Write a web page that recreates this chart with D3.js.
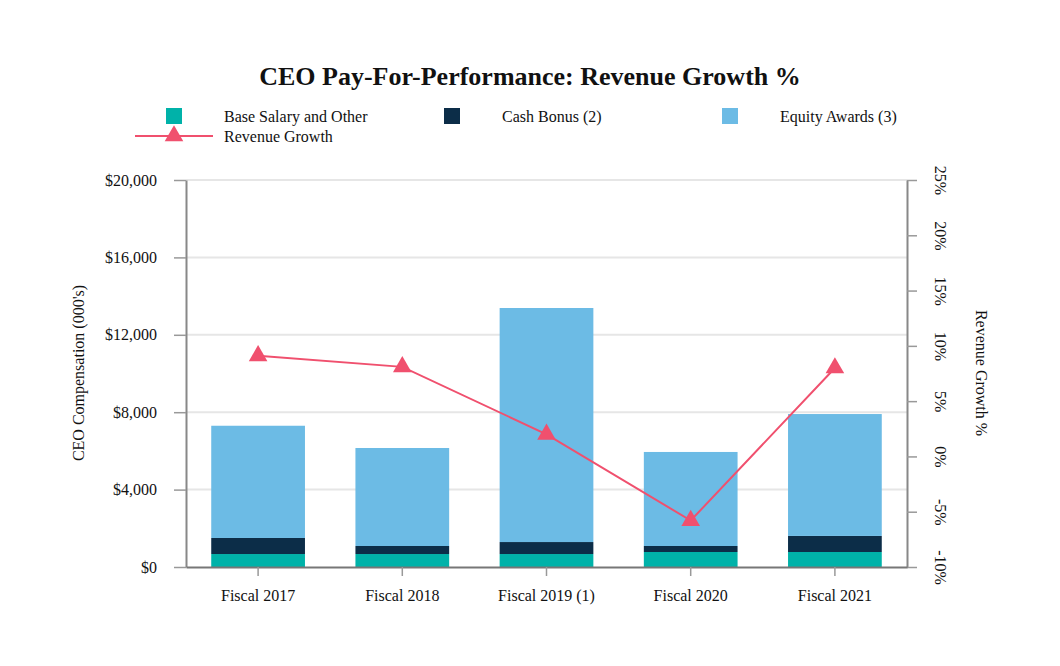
<!DOCTYPE html>
<html><head><meta charset="utf-8">
<script src="https://cdn.jsdelivr.net/npm/d3@7"></script>
<style>body{margin:0;background:#fff}svg{display:block}text{font-family:"Liberation Serif","Times New Roman",serif;fill:#111}</style>
</head><body><svg id="c" width="1060" height="666"></svg>
<script>
const categories = ["Fiscal 2017","Fiscal 2018","Fiscal 2019 (1)","Fiscal 2020","Fiscal 2021"];
const baseSalary = [670, 670, 670, 775, 775];
const cashBonus = [830, 415, 620, 310, 830];
const equityAwards = [5800, 5065, 12095, 4860, 6300];
const revenueGrowth = [9.1, 8.1, 2.0, -5.8, 8.0];
const leftTicks = [0, 4000, 8000, 12000, 16000, 20000];
const rightTicks = [-10, -5, 0, 5, 10, 15, 20, 25];
const seriesNames = ["Base Salary and Other","Cash Bonus (2)","Equity Awards (3)"];
const colors = ["#00b2a9","#0c2d48","#6cbbe5"];
const lineColor = "#f0506e";

const svg = d3.select("#c");
const L=186,R=907,T=180,B=567;
const FS="16px";
const x = d3.scaleBand().domain(categories).range([L,R]).paddingInner(0.35).paddingOuter(0.175);
const y = d3.scaleLinear().domain([0,20000]).range([B,T]);
const y2 = d3.scaleLinear().domain([-10,25]).range([B,T]);

svg.append("text").attr("x",530).attr("y",85).attr("text-anchor","middle")
  .style("font-size","26px").style("font-weight","bold").text("CEO Pay-For-Performance: Revenue Growth %");

// gridlines
svg.append("g").selectAll("line").data(leftTicks.slice(1)).join("line")
  .attr("x1",L).attr("x2",R).attr("y1",d=>y(d)).attr("y2",d=>y(d))
  .attr("stroke","#e6e6e6").attr("stroke-width",2);

// bars
const rows = categories.map((c,i)=>({cat:c,b:baseSalary[i],c:cashBonus[i],e:equityAwards[i]}));
const stack = d3.stack().keys(["b","c","e"])(rows);
svg.append("g").selectAll("g").data(stack).join("g").attr("fill",(d,i)=>colors[i])
  .selectAll("rect").data(d=>d).join("rect")
  .attr("x",d=>x(d.data.cat)).attr("width",x.bandwidth())
  .attr("y",d=>y(d[1])).attr("height",d=>y(d[0])-y(d[1]));

// axes
const gl = svg.append("g").attr("transform",`translate(${L},0)`)
  .call(d3.axisLeft(y).tickValues(leftTicks).tickFormat(d=>"$"+d3.format(",")(d)).tickSize(12).tickSizeOuter(0).tickPadding(17));
const gr = svg.append("g").attr("transform",`translate(${R},0)`)
  .call(d3.axisRight(y2).tickValues(rightTicks).tickFormat(d=>d+"%").tickSize(10).tickSizeOuter(0).tickPadding(0));
const gb = svg.append("g").attr("transform",`translate(0,${B})`)
  .call(d3.axisBottom(x).tickSize(9).tickSizeOuter(0).tickPadding(14));
[gl,gr,gb].forEach(g=>{
  g.selectAll(".domain").attr("stroke","#888").attr("stroke-width",2);
  g.selectAll(".tick line").attr("stroke","#999").attr("stroke-width",1.5);
  g.selectAll("text").style("font-size",FS).style("font-family",'"Liberation Serif",serif').attr("fill","#111");
});
gb.select(".domain").attr("stroke","#777");
gr.selectAll(".tick text").attr("x",null).attr("dy",null).attr("text-anchor","middle")
  .attr("transform","translate(34,0) rotate(90)").attr("dy","0.35em");

// axis titles
svg.append("text").attr("transform","translate(84,373) rotate(-90)").attr("text-anchor","middle")
  .style("font-size",FS).text("CEO Compensation (000's)");
svg.append("text").attr("transform","translate(976,373) rotate(90)").attr("text-anchor","middle")
  .style("font-size",FS).text("Revenue Growth %");

// line
const cx = d=>x(d)+x.bandwidth()/2;
svg.append("path").datum(revenueGrowth).attr("fill","none").attr("stroke",lineColor).attr("stroke-width",2)
  .attr("d",d3.line().x((d,i)=>cx(categories[i])).y(d=>y2(d)));
const tri = d3.symbol().type(d3.symbolTriangle).size(150);
svg.append("g").selectAll("path").data(revenueGrowth).join("path")
  .attr("d",tri).attr("fill",lineColor)
  .attr("transform",(d,i)=>`translate(${cx(categories[i])},${y2(d)})`);

// legend
const lx=[166,444,722];
seriesNames.forEach((n,i)=>{
  svg.append("rect").attr("x",lx[i]).attr("y",108).attr("width",16).attr("height",16).attr("fill",colors[i]);
  svg.append("text").attr("x",lx[i]+58).attr("y",122).style("font-size",FS).text(n);
});
svg.append("line").attr("x1",135).attr("x2",213).attr("y1",136).attr("y2",136).attr("stroke",lineColor).attr("stroke-width",2);
svg.append("path").attr("d",tri).attr("fill",lineColor).attr("transform","translate(174,136)");
svg.append("text").attr("x",224).attr("y",142).style("font-size",FS).text("Revenue Growth");
</script></body></html>
